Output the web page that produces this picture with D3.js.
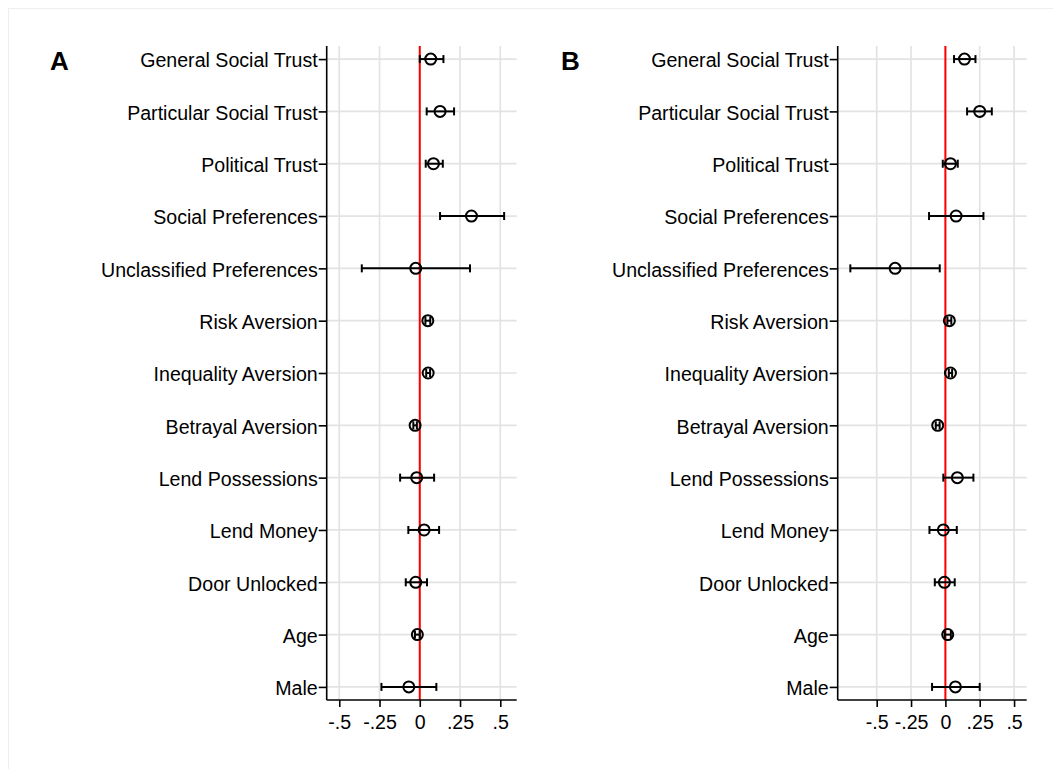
<!DOCTYPE html>
<head><meta charset="utf-8"/></head>
<style>
body { margin: 0; background: #fff; }
svg { display: block; }
.grid line { stroke: #e3e3e3; stroke-width: 1.7px; }
.axis path, .axis line { stroke: #000; stroke-width: 1.6px; }
.axis text { font-size: 19.6px; fill: #000; font-family: Arial, "Liberation Sans", sans-serif; }
.letter { font-family: Arial, "Liberation Sans", sans-serif; font-size: 26px; font-weight: bold; }
</style>
<script src="https://d3js.org/d3.v7.min.js"></script>
<body>
<div id="chart"></div>
</body>
<script>

// row labels, top to bottom
var labels = ["General Social Trust", "Particular Social Trust", "Political Trust",
    "Social Preferences", "Unclassified Preferences", "Risk Aversion",
    "Inequality Aversion", "Betrayal Aversion", "Lend Possessions",
    "Lend Money", "Door Unlocked", "Age", "Male"];

// panel A estimates and 95% intervals
var estA = [0.068, 0.126, 0.085, 0.321, -0.025, 0.050, 0.052, -0.029, -0.019, 0.027, -0.025, -0.015, -0.068];
var loA  = [0.000, 0.043, 0.037, 0.126, -0.360, 0.035, 0.040, -0.040, -0.122, -0.071, -0.087, -0.030, -0.238];
var hiA  = [0.147, 0.213, 0.143, 0.524, 0.312, 0.065, 0.064, -0.018, 0.089, 0.120, 0.045, 0.000, 0.103];

// panel B estimates and 95% intervals
var estB = [0.139, 0.250, 0.037, 0.078, -0.366, 0.029, 0.037, -0.056, 0.087, -0.015, -0.007, 0.017, 0.073];
var loB  = [0.063, 0.158, -0.019, -0.119, -0.692, 0.015, 0.025, -0.070, -0.015, -0.116, -0.077, -0.005, -0.097];
var hiB  = [0.219, 0.338, 0.090, 0.277, -0.041, 0.043, 0.049, -0.042, 0.204, 0.083, 0.068, 0.040, 0.250];

var tickVals = [-0.5, -0.25, 0, 0.25, 0.5];
var tickLabels = ["-.5", "-.25", "0", ".25", ".5"];

var W = 1053, H = 769;
var plotTop = 46, plotBottom = 700;

var svg = d3.select("#chart").append("svg")
    .attr("width", W)
    .attr("height", H);

// faint outer frame
svg.append("rect")
    .attr("x", 8.5).attr("y", 8.5)
    .attr("width", 1200).attr("height", 900)
    .attr("fill", "none")
    .attr("stroke", "#eeeeee");

var y = d3.scalePoint()
    .domain(labels)
    .range([plotTop, plotBottom])
    .padding(0.25);

function panel(letter, letterX, left, right, domain, est, lo, hi) {
    var x = d3.scaleLinear().domain(domain).range([left, right]);
    var g = svg.append("g");

    // gridlines
    var grid = g.append("g").attr("class", "grid");
    grid.selectAll(".v").data(tickVals).enter().append("line")
        .attr("x1", d => x(d)).attr("x2", d => x(d))
        .attr("y1", plotTop).attr("y2", plotBottom);
    grid.selectAll(".h").data(labels).enter().append("line")
        .attr("x1", left).attr("x2", right)
        .attr("y1", d => y(d)).attr("y2", d => y(d));

    // zero line
    g.append("line")
        .attr("x1", x(0)).attr("x2", x(0))
        .attr("y1", plotTop).attr("y2", plotBottom)
        .attr("stroke", "#ff0000")
        .attr("stroke-width", 2);

    // axes
    var yAxis = d3.axisLeft(y).tickSize(8).tickPadding(1).tickSizeOuter(0);
    g.append("g").attr("class", "axis")
        .attr("transform", "translate(" + left + ",0)")
        .call(yAxis)
        .call(a => a.select(".domain").attr("d", "M0," + plotTop + "V" + plotBottom))
        .selectAll("text").attr("dy", "0.4em");

    var xAxis = d3.axisBottom(x).tickValues(tickVals)
        .tickFormat((d, i) => tickLabels[i])
        .tickSize(7).tickPadding(8).tickSizeOuter(0);
    g.append("g").attr("class", "axis")
        .attr("transform", "translate(0," + plotBottom + ")")
        .call(xAxis)
        .call(a => a.select(".domain").attr("d", "M" + left + ",0H" + right));

    // error bars and point estimates
    var rows = labels.map((d, i) => ({ label: d, est: est[i], lo: lo[i], hi: hi[i] }));
    var bars = g.append("g").attr("stroke", "#000").attr("stroke-width", 2).attr("fill", "none");
    bars.selectAll(".ci").data(rows).enter().append("line")
        .attr("x1", d => x(d.lo)).attr("x2", d => x(d.hi))
        .attr("y1", d => y(d.label)).attr("y2", d => y(d.label));
    bars.selectAll(".capl").data(rows).enter().append("line")
        .attr("x1", d => x(d.lo)).attr("x2", d => x(d.lo))
        .attr("y1", d => y(d.label) - 4).attr("y2", d => y(d.label) + 4);
    bars.selectAll(".caph").data(rows).enter().append("line")
        .attr("x1", d => x(d.hi)).attr("x2", d => x(d.hi))
        .attr("y1", d => y(d.label) - 4).attr("y2", d => y(d.label) + 4);
    bars.selectAll("circle").data(rows).enter().append("circle")
        .attr("cx", d => x(d.est))
        .attr("cy", d => y(d.label))
        .attr("r", 5.5);

    svg.append("text")
        .attr("class", "letter")
        .attr("x", letterX).attr("y", 70)
        .text(letter);
}

panel("A", 50, 326.7, 516.7, [-0.578, 0.602], estA, loA, hiA);
panel("B", 561, 837.7, 1026.7, [-0.784, 0.592], estB, loB, hiB);

</script>
